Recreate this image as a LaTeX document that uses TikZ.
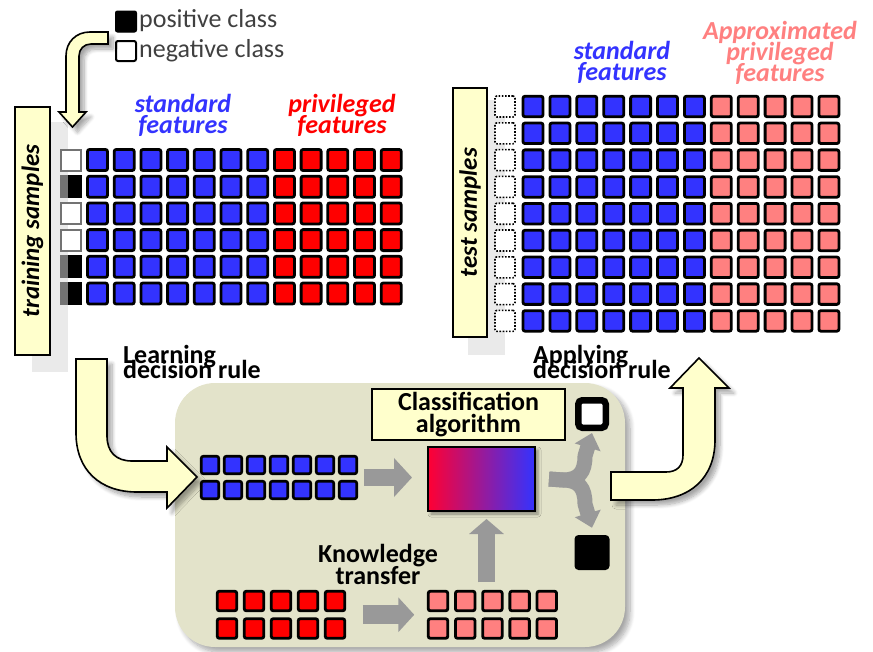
\documentclass[tikz,border=0pt]{standalone}
\usepackage{fontspec}
\setmainfont{Carlito}
\usetikzlibrary{arrows.meta,shadows.blur,calc}

\definecolor{pad}{HTML}{FFFFCC}
\definecolor{stdblue}{HTML}{3333FF}
\definecolor{privred}{HTML}{FF0000}
\definecolor{approxpink}{HTML}{FF8080}
\definecolor{flowgray}{HTML}{999999}
\definecolor{panel}{HTML}{E3E3CA}
\definecolor{ghost}{HTML}{EAEAEA}
\definecolor{legendtext}{HTML}{404040}
\definecolor{gradred}{HTML}{FF0033}

\newcommand{\featfont}{\fontsize{26}{21}\selectfont\lineskiplimit=-50pt\bfseries\itshape}
\newcommand{\stepfont}{\fontsize{26}{15}\selectfont\lineskiplimit=-50pt\bfseries}
\newcommand{\boxfont}{\fontsize{26}{22}\selectfont\lineskiplimit=-50pt\bfseries}

\begin{document}
\begin{tikzpicture}[x=1pt,y=-1pt,
  cell/.style={draw=black, line width=2.8pt, rounded corners=2pt,
    minimum width=20pt, minimum height=20.5pt, inner sep=0pt, outer sep=0pt},
  smallcell/.style={cell, line width=2.6pt, minimum width=17.5pt, minimum height=17.5pt},
  midcell/.style={cell, minimum width=19.5pt, minimum height=19.5pt},
  dotcell/.style={draw=black, line width=1.6pt, dash pattern=on 1.6pt off 1.6pt,
    fill=white, rounded corners=2pt, minimum width=20pt, minimum height=21pt,
    inner sep=0pt},
  samplebox/.style={draw=black, line width=1.6pt, fill=pad, rotate=90,
    inner sep=0pt, font=\fontsize{25}{25}\selectfont\bfseries\itshape},
  bigarrow/.style={draw=black, line width=1.6pt, fill=pad, line join=miter,
    blur shadow={shadow xshift=5pt, shadow yshift=-5pt, shadow opacity=35,
      shadow blur radius=4pt, shadow blur steps=8}},
  grayflow/.style={draw=flowgray, line width=17pt,
    -{Triangle[length=18pt,width=38pt]}},
  forkflow/.style={draw=flowgray, line width=15pt, line join=round,
    -{Triangle[length=15pt,width=26pt]}},
]
\useasboundingbox (0,0) rectangle (873,651);

% ---- light offset shadows of the sample label boxes
\fill[ghost] (32,122) rectangle (68,372);
\fill[ghost] (468,100) rectangle (505,355);

% ---- legend
\node[draw=black, fill=black, line width=1pt, rounded corners=2pt,
  minimum size=21pt, inner sep=0pt] (legpos) at (126,21.5) {};
\node[draw=black, fill=white, line width=2pt, rounded corners=2pt,
  minimum size=20pt, inner sep=0pt] (legneg) at (126,51) {};
\node[anchor=base west, inner sep=0pt, text=legendtext,
  font=\fontsize{26}{26}\selectfont] (postext) at (139,27) {positive class};
\node[anchor=base west, inner sep=0pt, text=legendtext,
  font=\fontsize{26}{26}\selectfont] (negtext) at (139,57) {negative class};

% bent arrow from the legend down to the training set
\path[bigarrow] (108,32) -- (90,32) .. controls (76,32) and (66,42) .. (66,56)
  -- (66,112) -- (59,112) -- (72.5,127) -- (86,112) -- (79,112) -- (79,56)
  .. controls (79,49) and (84,44) .. (91,44) -- (108,44) -- cycle;

% ---- training set
\node[samplebox, minimum width=248pt, minimum height=35pt] (trainlab)
  at (32.5,231) {training samples};
\node[inner sep=0pt, align=center, text=stdblue, font=\featfont] (trstd)
  at (183,115) {standard\\features};
\node[inner sep=0pt, align=center, text=privred, font=\featfont] (trpriv)
  at (342,115) {privileged\\features};

\foreach \r/\k in {0/0,1/1,2/0,3/0,4/1,5/1}{
  \pgfmathsetmacro{\yy}{160+26.7*\r}
  \ifnum\k=0
    \node[draw=black!55, fill=white, line width=2pt, minimum width=20pt,
      minimum height=21pt, inner sep=0pt] (trc-\r) at (71,\yy) {};
  \else
    \node[fill=black, minimum width=22pt, minimum height=23pt, inner sep=0pt,
      path picture={\fill[black!55] (path picture bounding box.north west)
        rectangle ([xshift=8pt]path picture bounding box.south west);}]
      (trc-\r) at (71,\yy) {};
  \fi
  \foreach \c in {0,...,6}
    \node[cell, fill=stdblue, minimum height=21pt] (tr-\r-\c)
      at (97.5+26.7*\c,\yy) {};
  \foreach \c in {7,...,11}
    \node[cell, fill=privred, minimum height=21pt] (tr-\r-\c)
      at (97.5+26.7*\c,\yy) {};
}

% ---- test set
\node[samplebox, minimum width=249pt, minimum height=34pt] (testlab)
  at (470,212.5) {test samples};
\node[inner sep=0pt, align=center, text=stdblue, font=\featfont] (testd)
  at (622,62) {standard\\features};
\node[inner sep=0pt, align=center, text=approxpink, font=\featfont] (teapx)
  at (780,52.5) {Approximated\\privileged\\features};

\foreach \r in {0,...,8}{
  \pgfmathsetmacro{\yy}{106.5+26.8*\r}
  \node[dotcell] (tec-\r) at (505,\yy) {};
  \foreach \c in {0,...,6}
    \node[cell, fill=stdblue] (te-\r-\c) at (533+26.9*\c,\yy) {};
  \foreach \c in {7,...,11}
    \node[cell, fill=approxpink] (te-\r-\c) at (533+26.9*\c,\yy) {};
}

% ---- learning panel
\path[fill=panel, rounded corners=40pt,
  blur shadow={shadow xshift=5pt, shadow yshift=-5pt, shadow opacity=35,
    shadow blur radius=5pt, shadow blur steps=8}]
  (175,383) rectangle (625,647);

\node[draw=black, line width=1.6pt, fill=pad, minimum width=193pt,
  minimum height=51pt, inner sep=0pt, align=center, font=\boxfont] (algo)
  at (468.5,414.5) {Classification\\algorithm};

\node[draw=black, line width=2pt, left color=gradred, right color=stdblue,
  minimum width=107pt, minimum height=64pt, inner sep=0pt,
  blur shadow={shadow xshift=3pt, shadow yshift=-3pt, shadow opacity=40,
    shadow blur radius=3pt}] (grad) at (481.5,479) {};

\foreach \r in {0,1}
  \foreach \c in {0,...,6}
    \node[smallcell, fill=stdblue] (pb-\r-\c) at (210+23*\c,465+25*\r) {};

\foreach \r in {0,1}{
  \foreach \c in {0,...,4}
    \node[midcell, fill=privred] (pr-\r-\c) at (227+27*\c,601+27.5*\r) {};
  \foreach \c in {0,...,4}
    \node[midcell, fill=approxpink] (pp-\r-\c) at (438+27.2*\c,601+27.5*\r) {};
}

\node[draw=black, fill=white, line width=6.5pt, rounded corners=4pt,
  minimum size=27.5pt, inner sep=0pt] (outneg) at (592,414) {};
\node[fill=black, rounded corners=4pt, minimum size=35pt, inner sep=0pt]
  (outpos) at (592,552.5) {};

\node[inner sep=0pt, align=center, font=\boxfont] (ktlab)
  at (378,564.5) {Knowledge\\transfer};

% grey flow arrows
\coordinate (bluemid) at ($(pb-0-6.east)!0.5!(pb-1-6.east)$);
\coordinate (redmid) at ($(pr-0-4.east)!0.5!(pr-1-4.east)$);
\coordinate (ktx) at ($(grad.south)+(5,0)$);

\draw[grayflow] ([xshift=7pt]bluemid) -- ([xshift=-15pt]grad.west |- bluemid);
\draw[grayflow, -{Triangle[length=16pt,width=34pt]}, line width=19pt]
  ([xshift=18pt]redmid) -- ([xshift=-14pt]pp-0-0.west |- redmid);
\draw[grayflow, -{Triangle[length=15pt,width=34pt]}]
  ([yshift=9pt]ktx |- pp-0-0.north) -- ([yshift=-7pt]ktx);

\draw[forkflow] ([xshift=13pt]grad.east) -- (563,480)
  .. controls (579,480) and (585,472) .. (585,456) -- ([yshift=-2pt]outneg.south);
\draw[forkflow] ([xshift=13pt]grad.east) -- (563,480)
  .. controls (579,480) and (585,488) .. (585,504) -- ([yshift=7pt]outpos.north);

% ---- step captions
\node[anchor=west, inner sep=0pt, align=left, font=\stepfont] (learnlab)
  at (123,362) {Learning\\decision rule};
\node[anchor=west, inner sep=0pt, align=left, font=\stepfont] (applylab)
  at (533,362) {Applying\\decision rule};

% ---- big bent arrows into and out of the panel
\path[bigarrow] (76,359) -- (107,359) -- (107,436)
  .. controls (107,452) and (116,461) .. (132,461) -- (167,461) -- (167,447)
  -- (197,477) -- (167,508) -- (167,492) -- (137,492)
  .. controls (100,492) and (76,470) .. (76,433) -- cycle;

\path[bigarrow] (611,472) -- (666,472) .. controls (677,472) and (683,466) .. (683,455)
  -- (683,388) -- (670,388) -- (699,358) -- (729,388) -- (715,388) -- (715,440)
  .. controls (715,478) and (690,500) .. (652,500) -- (611,500) -- cycle;

\end{tikzpicture}
\end{document}
